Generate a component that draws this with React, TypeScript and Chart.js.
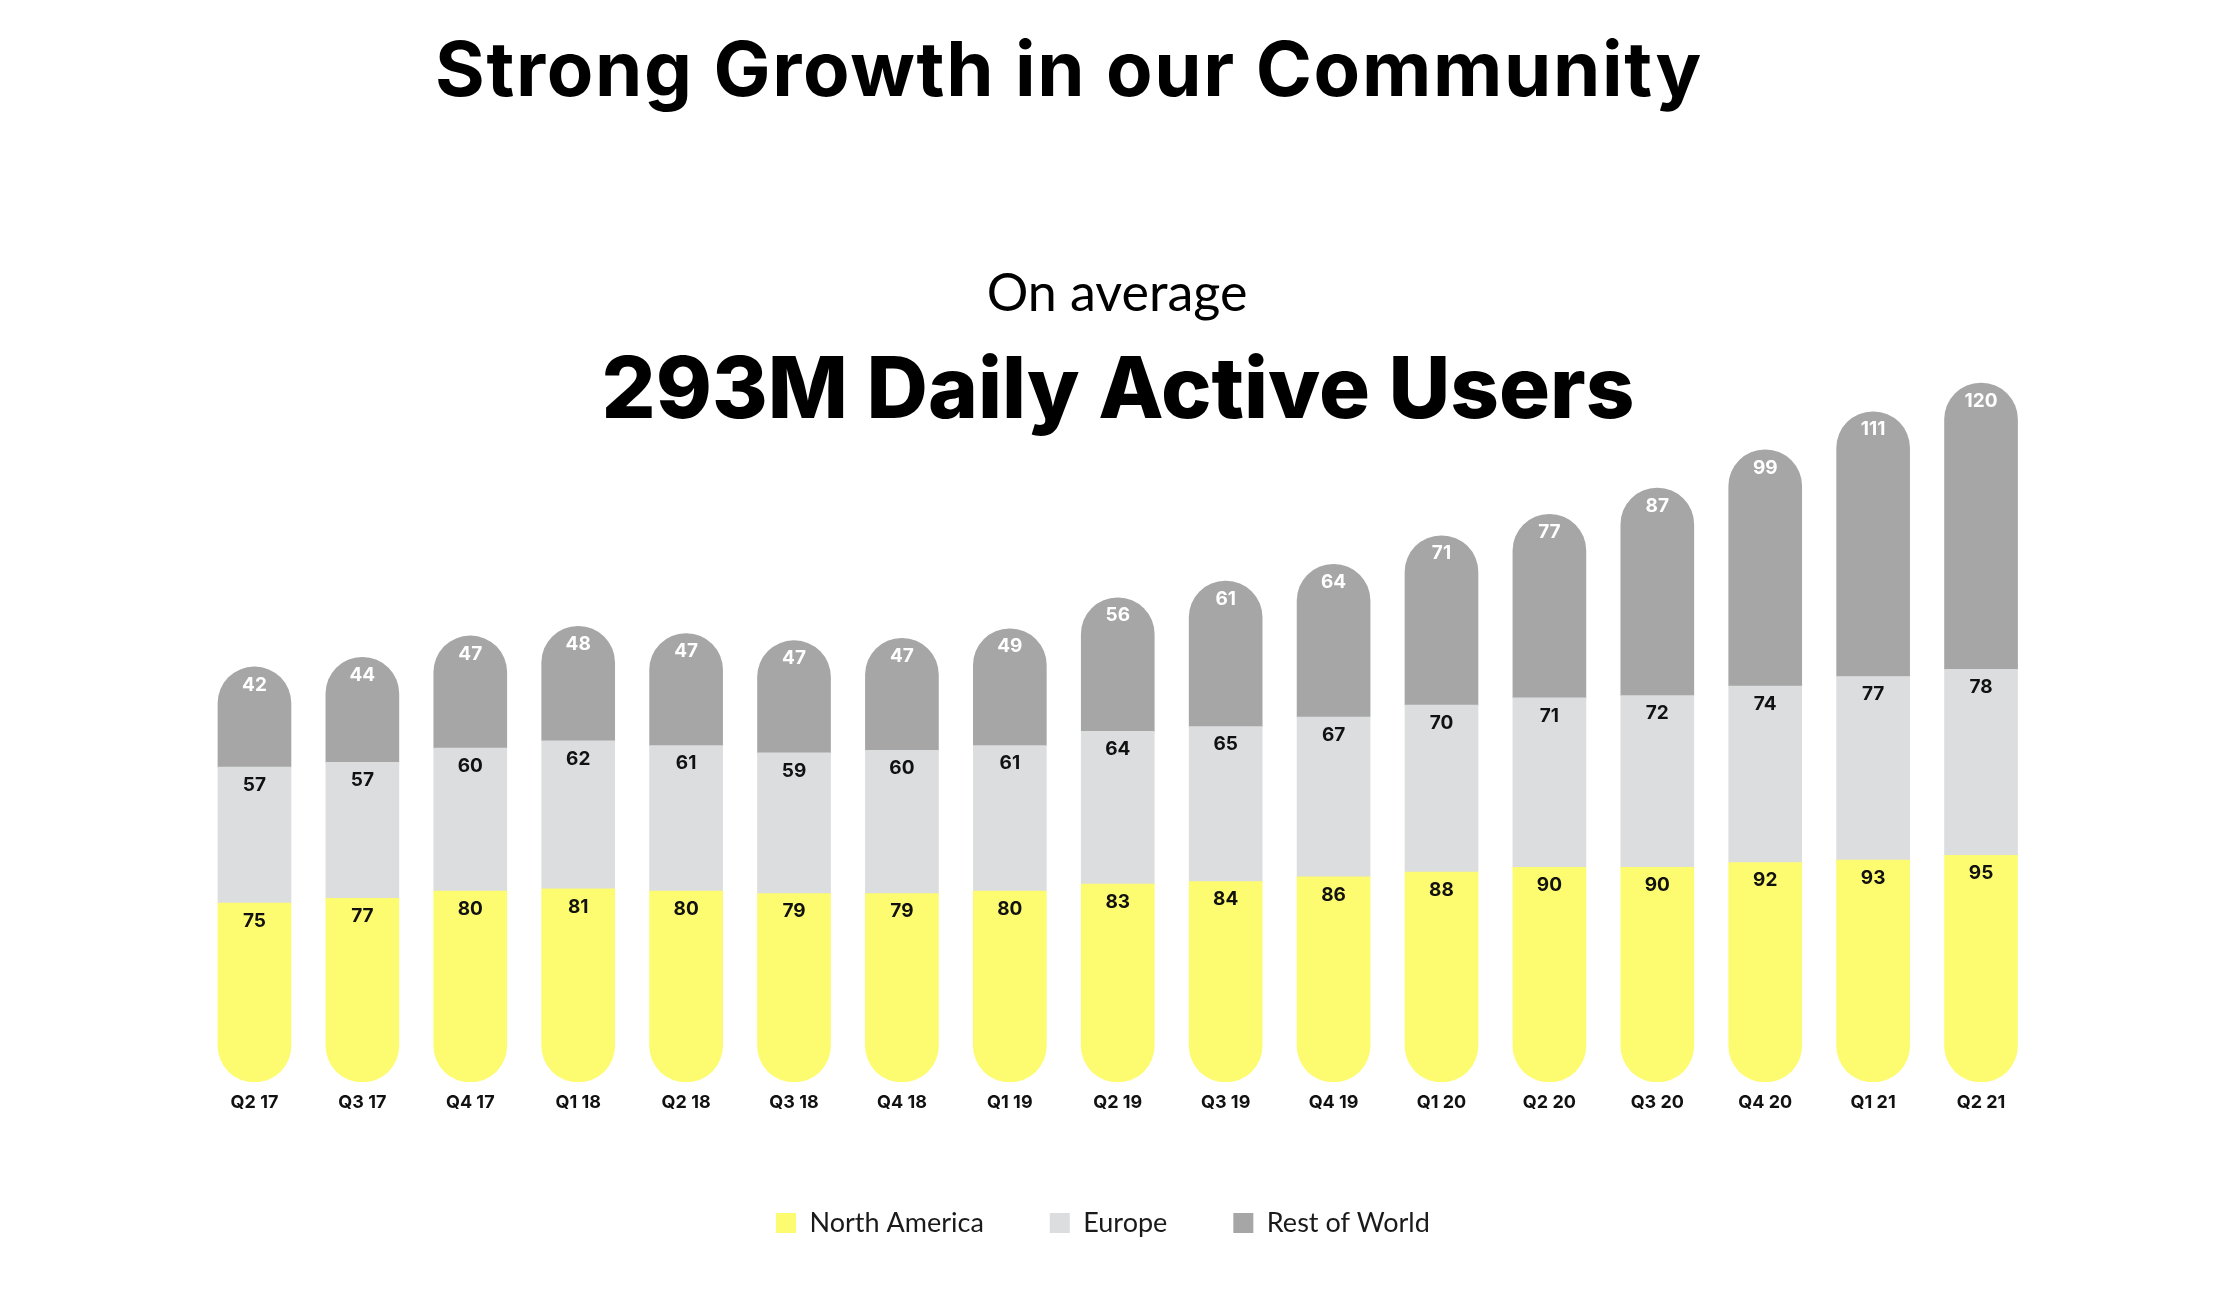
import React, { useEffect, useRef } from "react";
import { Chart, registerables } from "chart.js";

Chart.register(...registerables);

const quarters = [
  "Q2 17", "Q3 17", "Q4 17", "Q1 18", "Q2 18", "Q3 18", "Q4 18", "Q1 19", "Q2 19",
  "Q3 19", "Q4 19", "Q1 20", "Q2 20", "Q3 20", "Q4 20", "Q1 21", "Q2 21",
];
const northAmerica = [75, 77, 80, 81, 80, 79, 79, 80, 83, 84, 86, 88, 90, 90, 92, 93, 95];
const europe = [57, 57, 60, 62, 61, 59, 60, 61, 64, 65, 67, 70, 71, 72, 74, 77, 78];
const restOfWorld = [42, 44, 47, 48, 47, 47, 47, 49, 56, 61, 64, 71, 77, 87, 99, 111, 120];

const seriesNames = ["North America", "Europe", "Rest of World"];
const seriesColors = ["#FDFB6F", "#DCDDDF", "#A6A6A6"];
const valueLabelColors = ["#111111", "#111111", "#FFFFFF"];

const titleText = "Strong Growth in our Community";
const kickerText = "On average";
const headlineText = "293M Daily Active Users";

const LATO = "Lato, 'DejaVu Sans', sans-serif";
const INTER = "Inter, 'DejaVu Sans', sans-serif";

const valueLabels = {
  id: "valueLabels",
  afterDatasetsDraw(chart: any) {
    const ctx = chart.ctx;
    ctx.save();
    ctx.font = `bold 19px ${INTER}`;
    ctx.textAlign = "center";
    ctx.textBaseline = "middle";
    chart.data.datasets.forEach((ds: any, i: number) => {
      const meta = chart.getDatasetMeta(i);
      ctx.fillStyle = valueLabelColors[i];
      meta.data.forEach((el: any, j: number) => {
        ctx.fillText(String(ds.data[j]), el.x, el.y + 18);
      });
    });
    ctx.restore();
  },
};

const LEGEND_PAD = 66;
const legendShift = {
  id: "legendShift",
  afterLayout(chart: any) {
    const lg = chart.legend;
    if (!lg || !lg.lineWidths) return;
    const lw = lg.lineWidths[0];
    const cur = (lg.left + LEGEND_PAD + lg.right - lw) / 2;
    const d = 776 - cur;
    lg.left += d;
    lg.right += d;
  },
};

export default function App() {
  const ref = useRef<HTMLCanvasElement | null>(null);

  useEffect(() => {
    if (!ref.current) return;
    const R = 40;
    const chart = new Chart(ref.current, {
      type: "bar",
      data: {
        labels: quarters,
        datasets: [
          {
            label: seriesNames[0],
            data: northAmerica,
            backgroundColor: seriesColors[0],
            borderWidth: 0,
            borderSkipped: false,
            borderRadius: { topLeft: 0, topRight: 0, bottomLeft: R, bottomRight: R },
            barThickness: 73,
          },
          {
            label: seriesNames[1],
            data: europe,
            backgroundColor: seriesColors[1],
            borderWidth: 0,
            borderSkipped: false,
            borderRadius: 0,
            barThickness: 73,
          },
          {
            label: seriesNames[2],
            data: restOfWorld,
            backgroundColor: seriesColors[2],
            borderWidth: 0,
            borderSkipped: false,
            borderRadius: { topLeft: R, topRight: R, bottomLeft: 0, bottomRight: 0 },
            barThickness: 73,
          },
        ],
      },
      options: {
        animation: false,
        responsive: false,
        devicePixelRatio: 1,
        layout: { padding: { left: 200.5, right: 190, top: 364, bottom: 61.5 } },
        plugins: {
          title: { display: false },
          tooltip: { enabled: false },
          legend: {
            display: true,
            position: "bottom",
            labels: {
              boxWidth: 20,
              boxHeight: 20,
              padding: LEGEND_PAD,
              color: "#1a1a1a",
              font: { family: LATO, size: 27 },
            },
          },
        },
        scales: {
          x: {
            stacked: true,
            grid: { display: false, drawTicks: false },
            border: { display: false },
            ticks: {
              padding: 9.5,
              color: "#111111",
              font: { family: INTER, size: 18, weight: "bold" },
              maxRotation: 0,
              autoSkip: false,
            },
            afterFit: (scale: any) => {
              scale.height = 61.5;
            },
          },
          y: {
            stacked: true,
            display: false,
            min: 0,
            max: 301,
          },
        },
      },
      plugins: [valueLabels, legendShift],
    } as any);
    return () => chart.destroy();
  }, []);

  const heading = (
    text: string,
    cx: number,
    top: number,
    size: number,
    weight: number,
    family: string,
    spacing: number
  ) => (
    <div
      style={{
        position: "absolute",
        left: cx - 1000,
        width: 2000,
        top,
        textAlign: "center",
        fontFamily: family,
        fontSize: size,
        lineHeight: `${size}px`,
        fontWeight: weight,
        letterSpacing: spacing,
        color: "#000",
        whiteSpace: "nowrap",
        margin: 0,
      }}
    >
      {text}
    </div>
  );

  return (
    <div
      style={{
        position: "absolute",
        left: 0,
        top: 0,
        width: 2225,
        height: 1308,
        background: "#ffffff",
        overflow: "hidden",
      }}
    >
      <canvas
        ref={ref}
        width={2225}
        height={1308}
        style={{ position: "absolute", left: 0, top: 0, width: 2225, height: 1308 }}
      />
      {heading(titleText, 1069, 29.8, 76, 700, INTER, 1.7)}
      {heading(kickerText, 1117, 265, 52, 400, LATO, 0)}
      {heading(headlineText, 1118, 344.6, 85, 800, INTER, 0)}
    </div>
  );
}
